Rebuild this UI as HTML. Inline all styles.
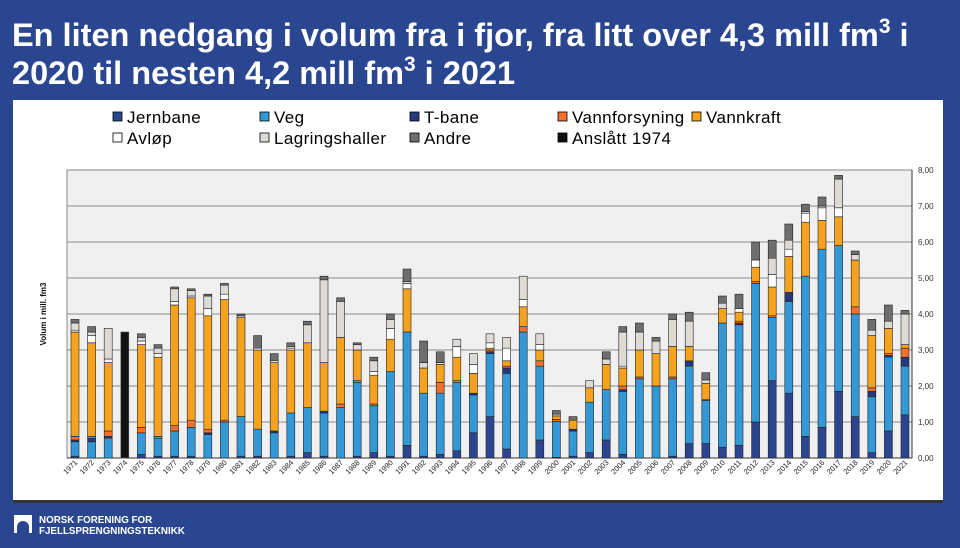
<!DOCTYPE html>
<html><head><meta charset="utf-8"><style>
html,body{margin:0;padding:0;width:960px;height:548px;overflow:hidden;background:#2A4690;font-family:"Liberation Sans",Arial,sans-serif}
.t{position:absolute;left:12px;color:#fff;font-weight:bold;font-size:32.5px;white-space:nowrap;line-height:38px}
.t sup{font-size:21px;vertical-align:13px;line-height:0}
</style></head><body>
<div class="t" style="top:16px">En liten nedgang i volum fra i fjor, fra litt over 4,3 mill fm<sup>3</sup> i</div>
<div class="t" style="top:54px">2020 til nesten 4,2 mill fm<sup>3</sup> i 2021</div>
<svg width="960" height="548" style="position:absolute;left:0;top:0" xmlns="http://www.w3.org/2000/svg" font-family="Liberation Sans, Arial, sans-serif">
<rect x="13" y="100" width="930" height="402" fill="#fff"/>
<rect x="13" y="500" width="930" height="3" fill="#333"/>
<g font-size="17" fill="#000" letter-spacing="0.4">
<rect x="113" y="112" width="9" height="9" fill="#2B4590" stroke="#000" stroke-width="0.8"/><text x="127" y="123">Jernbane</text>
<rect x="260" y="112" width="9" height="9" fill="#3399D6" stroke="#000" stroke-width="0.8"/><text x="274" y="123">Veg</text>
<rect x="410" y="112" width="9" height="9" fill="#24397F" stroke="#000" stroke-width="0.8"/><text x="424" y="123">T-bane</text>
<rect x="558" y="112" width="9" height="9" fill="#F07030" stroke="#000" stroke-width="0.8"/><text x="572" y="123">Vannforsyning</text>
<rect x="692" y="112" width="9" height="9" fill="#F5A21E" stroke="#000" stroke-width="0.8"/><text x="706" y="123">Vannkraft</text>
<rect x="113" y="133" width="9" height="9" fill="#fff" stroke="#000" stroke-width="0.8"/><text x="127" y="144">Avløp</text>
<rect x="260" y="133" width="9" height="9" fill="#DEDAD5" stroke="#000" stroke-width="0.8"/><text x="274" y="144">Lagringshaller</text>
<rect x="410" y="133" width="9" height="9" fill="#6E6E6E" stroke="#000" stroke-width="0.8"/><text x="424" y="144">Andre</text>
<rect x="558" y="133" width="9" height="9" fill="#111" stroke="#000" stroke-width="0.8"/><text x="572" y="144">Anslått 1974</text>
</g>
<rect x="67" y="170" width="845" height="288" fill="#F0F0F0" stroke="#888" stroke-width="1"/>
<g stroke="#8a8a8a" stroke-width="1">
<line x1="67" x2="912" y1="206" y2="206"/><line x1="67" x2="912" y1="242" y2="242"/><line x1="67" x2="912" y1="278" y2="278"/><line x1="67" x2="912" y1="314" y2="314"/><line x1="67" x2="912" y1="350" y2="350"/><line x1="67" x2="912" y1="386" y2="386"/><line x1="67" x2="912" y1="422" y2="422"/>
</g>
<line x1="67" x2="912" y1="458" y2="458" stroke="#333"/>
<line x1="912" x2="912" y1="170" y2="458" stroke="#333"/>
<g id="bars"></g>
<g font-size="8" fill="#333">
<text x="918" y="173">8,00</text><text x="918" y="209">7,00</text><text x="918" y="245">6,00</text><text x="918" y="281">5,00</text><text x="918" y="317">4,00</text><text x="918" y="353">3,00</text><text x="918" y="389">2,00</text><text x="918" y="425">1,00</text><text x="918" y="461">0,00</text>
</g>
<text transform="translate(46,314) rotate(-90)" text-anchor="middle" font-size="8" font-weight="bold" fill="#111">Volum i mill. fm3</text>
<g font-size="7.5" fill="#222" text-anchor="end">
<text transform="translate(78,463) rotate(-45)">1971</text><text transform="translate(94.6,463) rotate(-45)">1972</text><text transform="translate(111.2,463) rotate(-45)">1973</text><text transform="translate(127.8,463) rotate(-45)">1974</text><text transform="translate(144.4,463) rotate(-45)">1975</text><text transform="translate(161,463) rotate(-45)">1976</text><text transform="translate(177.6,463) rotate(-45)">1977</text><text transform="translate(194.2,463) rotate(-45)">1978</text><text transform="translate(210.8,463) rotate(-45)">1979</text><text transform="translate(227.4,463) rotate(-45)">1980</text><text transform="translate(244,463) rotate(-45)">1981</text><text transform="translate(260.6,463) rotate(-45)">1982</text><text transform="translate(277.2,463) rotate(-45)">1983</text><text transform="translate(293.8,463) rotate(-45)">1984</text><text transform="translate(310.4,463) rotate(-45)">1985</text><text transform="translate(327,463) rotate(-45)">1986</text><text transform="translate(343.6,463) rotate(-45)">1987</text><text transform="translate(360.2,463) rotate(-45)">1988</text><text transform="translate(376.8,463) rotate(-45)">1989</text><text transform="translate(393.4,463) rotate(-45)">1990</text><text transform="translate(410,463) rotate(-45)">1991</text><text transform="translate(426.6,463) rotate(-45)">1992</text><text transform="translate(443.2,463) rotate(-45)">1993</text><text transform="translate(459.8,463) rotate(-45)">1994</text><text transform="translate(476.4,463) rotate(-45)">1995</text><text transform="translate(493,463) rotate(-45)">1996</text><text transform="translate(509.6,463) rotate(-45)">1997</text><text transform="translate(526.2,463) rotate(-45)">1998</text><text transform="translate(542.8,463) rotate(-45)">1999</text><text transform="translate(559.4,463) rotate(-45)">2000</text><text transform="translate(576,463) rotate(-45)">2001</text><text transform="translate(592.6,463) rotate(-45)">2002</text><text transform="translate(609.2,463) rotate(-45)">2003</text><text transform="translate(625.8,463) rotate(-45)">2004</text><text transform="translate(642.4,463) rotate(-45)">2005</text><text transform="translate(659,463) rotate(-45)">2006</text><text transform="translate(675.6,463) rotate(-45)">2007</text><text transform="translate(692.2,463) rotate(-45)">2008</text><text transform="translate(708.8,463) rotate(-45)">2009</text><text transform="translate(725.4,463) rotate(-45)">2010</text><text transform="translate(742,463) rotate(-45)">2011</text><text transform="translate(758.6,463) rotate(-45)">2012</text><text transform="translate(775.2,463) rotate(-45)">2013</text><text transform="translate(791.8,463) rotate(-45)">2014</text><text transform="translate(808.4,463) rotate(-45)">2015</text><text transform="translate(825,463) rotate(-45)">2016</text><text transform="translate(841.6,463) rotate(-45)">2017</text><text transform="translate(858.2,463) rotate(-45)">2018</text><text transform="translate(874.8,463) rotate(-45)">2019</text><text transform="translate(891.4,463) rotate(-45)">2020</text><text transform="translate(908,463) rotate(-45)">2021</text>
</g>
<rect x="14" y="515" width="18" height="18" fill="#fff"/>
<path d="M17 533 V527 A6 6 0 0 1 29 527 V533 Z" fill="#2A4690"/>
<text x="39" y="523" font-size="9.8" font-weight="bold" fill="#fff">NORSK FORENING FOR</text>
<text x="39" y="534" font-size="9.8" font-weight="bold" fill="#fff">FJELLSPRENGNINGSTEKNIKK</text>
</svg>
<script>
var C=["#2B4590","#3399D6","#24397F","#F07030","#F5A21E","#FFFFFF","#DEDAD5","#6E6E6E"];
var D=[
[.05,.4,.05,.1,2.9,.05,.2,.1],[0,.45,.1,.05,2.6,.2,.1,.15],[0,.55,.05,.15,1.9,.1,.85,0],null,
[.1,.6,0,.15,2.3,.1,.1,.1],[.05,.5,0,.05,2.2,.1,.15,.1],[.05,.7,0,.15,3.35,.1,.35,.05],[.05,.8,0,.2,3.4,.05,.15,.05],
[0,.65,.05,.1,3.15,.2,.35,.05],[0,1.0,0,.05,3.35,.15,.25,.05],[.05,1.1,0,0,2.75,0,.05,.05],[.05,.75,0,0,2.2,.05,0,.35],
[0,.7,.05,0,1.9,.05,0,.2],[.05,1.2,0,0,1.75,.05,.05,.1],[.15,1.25,0,0,1.8,0,.5,.1],[.05,1.2,.05,0,1.35,0,2.3,.1],
[0,1.4,0,.1,1.85,0,1.0,.1],[.05,2.05,0,.05,.85,0,.15,.05],[.15,1.3,0,.05,.8,.1,.3,.1],[.05,2.35,0,0,.9,.3,.25,.15],
[.35,3.15,0,0,1.2,.15,.05,.35],[.05,1.75,0,0,.7,0,.15,.6],[.1,1.7,0,.3,.5,0,.05,.3],[.2,1.9,0,.05,.65,.3,.2,0],
[.7,1.05,.05,0,.55,.25,.3,0],[1.15,1.75,.05,.05,.05,.15,.25,0],[.25,2.1,.15,.05,.15,.35,.3,0],[0,3.5,0,.15,.55,.2,.65,0],
[.5,2.05,0,.15,.3,.15,.3,0],[.02,1.0,0,.05,.1,0,.05,.1],[.05,.7,.05,0,.25,0,0,.1],[.15,1.4,0,0,.4,0,.2,0],
[.5,1.4,0,0,.7,0,.15,.2],[.1,1.75,.05,.1,.5,.05,.95,.15],[0,2.2,0,.05,.75,0,.5,.25],[0,2.0,0,0,.9,0,.35,.1],
[.05,2.15,0,.05,.85,0,.75,.15],[.4,2.15,.15,0,.4,0,.7,.25],[.4,1.2,0,.02,.45,0,.1,.2],[.3,3.45,0,0,.4,0,.15,.2],
[.35,3.35,.05,.05,.25,.1,0,.4],[1.0,3.85,0,.05,.4,.2,0,.5],[2.15,1.75,0,.05,.8,.35,.45,.5],[1.8,2.55,.25,0,1.0,.2,.25,.45],
[.6,4.45,0,0,1.5,.25,.05,.2],[.85,4.95,0,0,.8,.35,.05,.25],[1.85,4.05,0,0,.8,.25,.8,.1],[1.15,2.85,0,.2,1.3,0,.15,.1],
[.15,1.55,.15,.1,1.45,0,.15,.3],[.75,2.05,.05,.05,.7,0,.2,.45],[1.2,1.35,.25,.25,.1,0,.85,.1]];
var s="",k=36,w=8;
D.forEach(function(d,i){var cx=75+16.6*i,x=cx-w/2,y=458;
 if(!d){s+='<rect x="'+x+'" y="'+(458-3.5*k)+'" width="'+w+'" height="'+(3.5*k)+'" fill="#111" stroke="#555" stroke-width="0.6"/>';return;}
 d.forEach(function(v,j){if(v<=0)return;var h=v*k;y-=h;s+='<rect x="'+x+'" y="'+y.toFixed(1)+'" width="'+w+'" height="'+h.toFixed(1)+'" fill="'+C[j]+'" stroke="#222" stroke-width="0.6"/>';});
});
document.getElementById("bars").innerHTML=s;
</script>
</body></html>
